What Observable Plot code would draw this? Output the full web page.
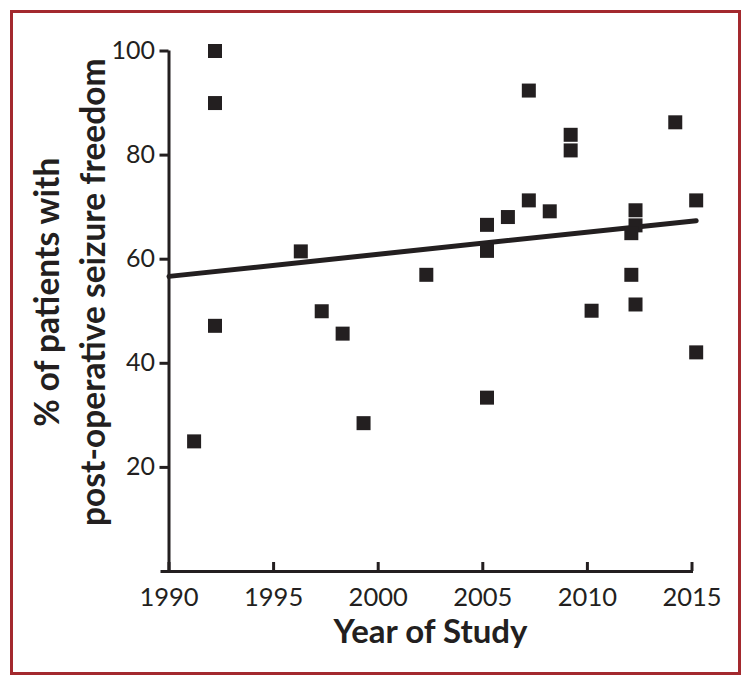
<!DOCTYPE html>
<html>
<head>
<meta charset="utf-8">
<script src="https://cdn.jsdelivr.net/npm/d3@7"></script>
<script src="https://cdn.jsdelivr.net/npm/@observablehq/plot@0.6"></script>
<style>
  html, body { margin: 0; padding: 0; background: #fff; }
  #wrap { position: relative; width: 751px; height: 684px; }
  #border { position: absolute; left: 10px; top: 10px; width: 731px; height: 665px;
            box-sizing: border-box; border: 3px solid #a3292e; pointer-events: none; }
  svg { display: block; }
</style>
</head>
<body>
<div id="wrap"><div id="border"></div></div>
<script>
// Data
const studyYear = [1991.2, 1992.2, 1992.2, 1992.2, 1996.3, 1997.3, 1998.3, 1999.3, 2002.3,
  2005.2, 2005.2, 2005.2, 2006.2, 2007.2, 2007.2, 2008.2, 2009.2, 2009.2, 2010.2,
  2012.3, 2012.3, 2012.1, 2012.1, 2012.3, 2014.2, 2015.2, 2015.2];
const seizureFree = [25, 100, 90, 47.2, 61.5, 50, 45.7, 28.5, 57,
  66.6, 61.6, 33.4, 68.1, 92.4, 71.3, 69.2, 83.9, 80.9, 50.1,
  69.4, 66.5, 65, 57, 51.3, 86.3, 71.3, 42.1];
const trendYear = [1990, 2015.2];
const trendValue = [56.7, 67.4];
const xTicks = [1990, 1995, 2000, 2005, 2010, 2015];
const yTicks = [20, 40, 60, 80, 100];
const xTitle = "Year of Study";
const yTitle1 = "% of patients with";
const yTitle2 = "post-operative seizure freedom";

const points = studyYear.map((x, i) => ({x, y: seizureFree[i]}));
const trend = trendYear.map((x, i) => ({x, y: trendValue[i]}));

const ink = "#231f20";
const chart = Plot.plot({
  width: 751,
  height: 684,
  marginLeft: 168.5,
  marginRight: 59.5,
  marginTop: 50.5,
  marginBottom: 113,
  style: {fontFamily: "Lato, sans-serif", color: ink, background: "transparent"},
  x: {domain: [1990, 2015]},
  y: {domain: [0, 100]},
  marks: [
    Plot.ruleX([1990], {stroke: ink, strokeWidth: 3, insetBottom: -1.5}),
    Plot.ruleY([0], {stroke: ink, strokeWidth: 3, insetLeft: -8, insetRight: -1.5}),
    Plot.axisY({ticks: yTicks, tickSize: 9, tickPadding: 5, fontSize: 25, strokeWidth: 3, label: null}),
    Plot.axisX({ticks: xTicks, tickSize: -9, tickPadding: 25, fontSize: 25.5, strokeWidth: 3, tickFormat: d => String(d), label: null}),
    Plot.line(trend, {x: "x", y: "y", stroke: ink, strokeWidth: 5}),
    Plot.dot(points, {x: "x", y: "y", symbol: "square", r: 7.9, fill: ink, stroke: "none"}),
    Plot.text([xTitle], {frameAnchor: "bottom", dy: 61, fontSize: 33, fontWeight: "bold", lineAnchor: "middle", textAnchor: "middle", fill: ink}),
    Plot.text([yTitle1], {frameAnchor: "left", dx: -121, dy: -19, rotate: -90, fontSize: 33.5, fontWeight: "bold", lineAnchor: "middle", textAnchor: "middle", fill: ink}),
    Plot.text([yTitle2], {frameAnchor: "left", dx: -75, dy: -19, rotate: -90, fontSize: 33.5, fontWeight: "bold", lineAnchor: "middle", textAnchor: "middle", fill: ink})
  ]
});
document.getElementById("wrap").prepend(chart);
</script>
</body>
</html>
